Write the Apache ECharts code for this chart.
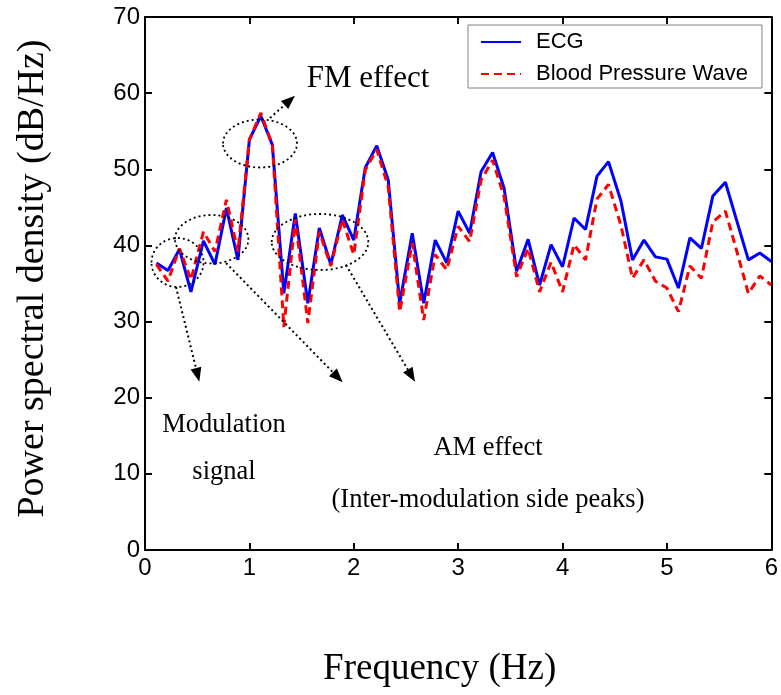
<!DOCTYPE html>
<html>
<head>
<meta charset="utf-8">
<script src="https://cdn.jsdelivr.net/npm/echarts@6/dist/echarts.min.js"></script>
<style>
html,body{margin:0;padding:0;background:#fff;}
#chart{width:781px;height:695px;}
</style>
</head>
<body>
<div id="chart"></div>
<script>
// Frequency bins (Hz)
var freq = [0.11,0.22,0.33,0.44,0.56,0.67,0.78,0.89,1.00,1.11,1.22,1.33,1.44,1.56,1.67,1.78,1.89,2.00,
            2.11,2.22,2.33,2.44,2.56,2.67,2.78,2.89,3.00,3.11,3.22,3.33,3.44,3.56,3.67,3.78,3.89,4.00,
            4.11,4.22,4.33,4.44,4.56,4.67,4.78,4.89,5.00,5.11,5.22,5.33,5.44,5.56,5.67,5.78,5.89,6.00];
// ECG PSD (dB/Hz)
var ecg = [37.7,36.7,39.5,33.9,40.6,37.5,44.9,38.1,53.9,57.0,53.2,33.7,44.2,32.4,42.3,37.5,44.0,40.7,
           50.2,53.1,48.6,32.4,41.6,32.4,40.7,37.7,44.5,41.6,49.7,52.2,47.5,36.6,40.8,34.8,40.1,37.2,
           43.6,42.1,49.1,51.0,45.8,38.1,40.7,38.5,38.2,34.4,41.0,39.6,46.5,48.3,43.2,38.1,39.0,37.9];
// Blood pressure wave PSD (dB/Hz)
var bpw = [37.5,35.3,39.6,35.5,41.8,39.2,46.0,39.2,53.9,57.4,53.2,29.3,43.4,29.8,41.8,37.3,43.4,38.8,
           49.9,52.6,47.7,31.3,40.3,30.2,38.8,36.8,42.5,40.5,48.6,51.2,46.4,35.9,39.6,33.9,37.8,33.9,
           40.1,38.1,46.1,48.0,42.6,35.7,38.1,35.3,34.4,31.3,37.3,35.7,43.1,44.5,39.2,33.7,36.0,34.8];
var seriesNames = ['ECG','Blood Pressure Wave'];
var xTicks = {min:0, max:6, interval:1};
var yTicks = {min:0, max:70, interval:10};

function pairs(xs, ys){ return xs.map(function(x,i){ return [x, ys[i]]; }); }

var serif = '"Liberation Serif","Times New Roman",serif';
var sans = '"Liberation Sans",Arial,sans-serif';

function arrow(x1,y1,x2,y2){
  var dx=x2-x1, dy=y2-y1, len=Math.sqrt(dx*dx+dy*dy);
  var ux=dx/len, uy=dy/len, nx=-uy, ny=ux;
  var L=14, W=11;
  var bx=x2-ux*L, by=y2-uy*L;
  return [
    {type:'line', shape:{x1:x1,y1:y1,x2:bx,y2:by},
     style:{stroke:'#000', lineWidth:2, lineDash:[2,3]}, z:100},
    {type:'polygon', shape:{points:[[x2,y2],[bx+nx*W/2,by+ny*W/2],[bx-nx*W/2,by-ny*W/2]]},
     style:{fill:'#000'}, z:100}
  ];
}
function ell(cx,cy,rx,ry){
  return {type:'ellipse', shape:{cx:cx,cy:cy,rx:rx,ry:ry},
    style:{fill:null, stroke:'#000', lineWidth:1.8, lineDash:[2,3]}, z:100};
}
function txt(s,x,y,fs){
  return {type:'text', x:x, y:y, z:100,
    style:{text:s, font: fs+'px '+serif, fill:'#000', align:'center', verticalAlign:'middle'}};
}

var graphics = [
  ell(260,143.5,37,24),
  ell(177.5,262.5,26,24.5),
  ell(211.7,239.2,36.7,24.2),
  ell(320,242,48.3,28)
].concat(arrow(270,118,295,95.7))
 .concat(arrow(176,287,199.3,381.7))
 .concat(arrow(226,263,342.7,382.3))
 .concat(arrow(346,265,415,381.7))
 .concat([
  txt('FM effect',368,79,31),
  txt('Modulation',224,425,26.5),
  txt('signal',224,472,26.5),
  txt('AM effect',488,448,26.5),
  txt('(Inter-modulation side peaks)',488,500,26.5)
 ]);

var axisLineStyle = {color:'#000', width:2};
var tickStyle = {show:true, inside:true, length:7, lineStyle:{color:'#000', width:2}};
var chart = echarts.init(document.getElementById('chart'), null, {renderer:'canvas'});
chart.setOption({
  backgroundColor:'#fff',
  animation:false,
  grid:{left:145, right:8, top:17, bottom:145, containLabel:false},
  legend:{
    data:seriesNames, orient:'vertical', left:468, top:25,
    backgroundColor:'#fff', borderColor:'#808080', borderWidth:1,
    padding:[6,14,3,12], itemWidth:40, itemHeight:14, itemGap:10,
    itemStyle:{opacity:0, borderWidth:0},
    textStyle:{fontFamily:sans, fontSize:22, color:'#000', padding:[0,0,0,10]}
  },
  xAxis:[{
    type:'value', min:xTicks.min, max:xTicks.max, interval:xTicks.interval,
    name:'Frequency (Hz)', nameLocation:'middle', nameGap:101,
    nameTextStyle:{fontFamily:serif, fontSize:37, color:'#000', padding:[0,37,0,0]},
    axisLine:{show:true, onZero:false, lineStyle:axisLineStyle},
    axisTick:tickStyle,
    axisLabel:{fontFamily:sans, fontSize:24, color:'#000', margin:6},
    splitLine:{show:false}
  },{
    type:'value', position:'top', min:xTicks.min, max:xTicks.max, interval:xTicks.interval,
    axisLine:{show:true, onZero:false, lineStyle:axisLineStyle},
    axisTick:tickStyle,
    axisLabel:{show:false}, splitLine:{show:false}
  }],
  yAxis:[{
    type:'value', min:yTicks.min, max:yTicks.max, interval:yTicks.interval,
    name:'Power spectral density (dB/Hz)', nameLocation:'middle', nameGap:93,
    nameTextStyle:{fontFamily:serif, fontSize:38, color:'#000', padding:[0,0,0,10]},
    axisLine:{show:true, onZero:false, lineStyle:axisLineStyle},
    axisTick:tickStyle,
    axisLabel:{fontFamily:sans, fontSize:24, color:'#000', margin:5},
    splitLine:{show:false}
  },{
    type:'value', position:'right', min:yTicks.min, max:yTicks.max, interval:yTicks.interval,
    axisLine:{show:true, onZero:false, lineStyle:axisLineStyle},
    axisTick:tickStyle,
    axisLabel:{show:false}, splitLine:{show:false}
  }],
  series:[{
    name:seriesNames[0], type:'line', data:pairs(freq, ecg), symbol:'none',
    xAxisIndex:0, yAxisIndex:0,
    lineStyle:{color:'#0000ff', width:3}, itemStyle:{color:'#0000ff'}
  },{
    name:seriesNames[1], type:'line', data:pairs(freq, bpw), symbol:'none',
    xAxisIndex:0, yAxisIndex:0,
    lineStyle:{color:'#ff0000', width:3, type:[8,5]}, itemStyle:{color:'#ff0000'}
  }],
  graphic:graphics
});
</script>
</body>
</html>
